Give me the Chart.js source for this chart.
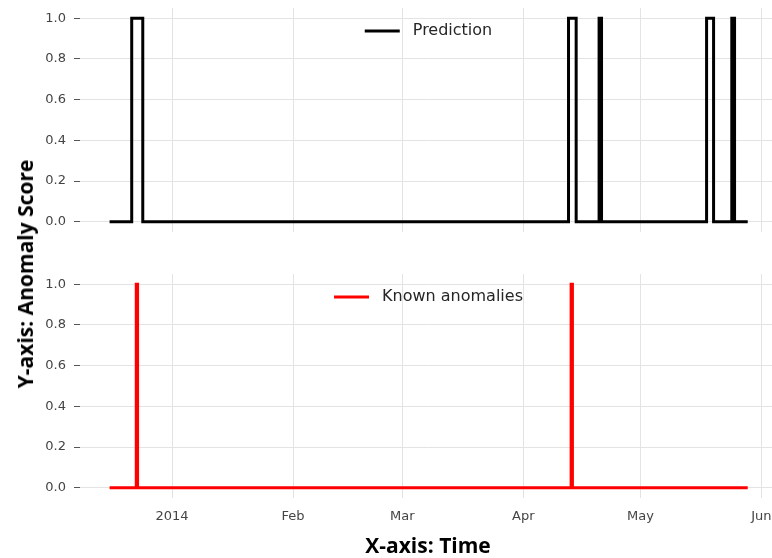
<!DOCTYPE html>
<html>
<head>
<meta charset="utf-8">
<title>Anomaly Score</title>
<script src="https://cdn.jsdelivr.net/npm/chart.js@4.4.1/dist/chart.umd.min.js"></script>
<style>
  body { margin: 0; width: 772px; height: 558px; overflow: hidden; background: #fff; position: relative; }
  canvas { position: absolute; left: 0; }
  #predChart { top: 0; }
  #knownChart { top: 266px; }
  .axis-title { position: absolute; font-family: "Open Sans", sans-serif; font-weight: bold; font-size: 21px; color: #000; white-space: nowrap; transform: translate(-50%, -50%); }
  #yTitle { left: 25px; top: 274px; transform: translate(-50%, -50%) rotate(-90deg); }
  #xTitle { left: 428px; top: 545px; }
</style>
</head>
<body>
<canvas id="predChart" width="777" height="240"></canvas>
<canvas id="knownChart" width="777" height="292"></canvas>
<div class="axis-title" id="yTitle">Y-axis: Anomaly Score</div>
<div class="axis-title" id="xTitle">X-axis: Time</div>
<script>
// model output: value switches at each timestamp and holds until the next one
const predTimes = [
  '2013-12-16T00:00', '2013-12-21T16:00', '2013-12-24T12:00',
  '2014-04-12T14:00', '2014-04-14T13:00',
  '2014-04-20T10:00', '2014-04-21T01:00',
  '2014-05-17T23:00', '2014-05-19T18:00',
  '2014-05-24T10:00', '2014-05-25T03:00',
  '2014-05-28T12:00'
];
const predValues = [0, 1, 0, 1, 0, 1, 0, 1, 0, 1, 0, 0];

// labelled anomalies
const knownTimes = [
  '2013-12-16T00:00', '2013-12-22T20:00', '2013-12-23T04:00',
  '2014-04-13T06:00', '2014-04-13T14:00', '2014-05-28T12:00'
];
const knownValues = [0, 1, 0, 1, 0, 0];

const monthTicks = ['2014-01-01', '2014-02-01', '2014-03-01', '2014-04-01', '2014-05-01', '2014-06-01'];
const monthLabels = ['2014', 'Feb', 'Mar', 'Apr', 'May', 'Jun'];
const scoreTicks = [0, 0.2, 0.4, 0.6, 0.8, 1.0];

const ts = s => Date.parse(s.length === 10 ? s + 'T00:00Z' : s + 'Z');
const toPoints = (times, values) => times.map((s, i) => ({ x: ts(s), y: values[i] }));

const X_MIN = ts('2013-12-08T10:00');
const X_MAX = ts('2014-06-05T00:00');
const GRID = '#e3e3e3';
const TICK_TEXT = '#444444';

// legend drawn inside the plot, upper centre, no frame
const innerLegend = {
  id: 'innerLegend',
  afterDatasetsDraw(chart) {
    const { ctx, chartArea } = chart;
    const ds = chart.data.datasets[0];
    ctx.save();
    ctx.font = '16px "DejaVu Sans"';
    const textW = ctx.measureText(ds.label).width;
    const lineLen = 35, gap = 13;
    const x0 = (chartArea.left + chartArea.right) / 2 - (lineLen + gap + textW) / 2;
    const y = chartArea.top + 23;
    ctx.strokeStyle = ds.borderColor;
    ctx.lineWidth = 3;
    ctx.beginPath();
    ctx.moveTo(x0, y);
    ctx.lineTo(x0 + lineLen, y);
    ctx.stroke();
    ctx.fillStyle = '#262626';
    ctx.textBaseline = 'middle';
    ctx.fillText(ds.label, x0 + lineLen + gap, y);
    ctx.restore();
  }
};

function makeChart(id, label, color, times, values, showDates) {
  return new Chart(document.getElementById(id), {
    type: 'line',
    data: {
      datasets: [{
        label: label,
        data: toPoints(times, values),
        borderColor: color,
        borderWidth: 3,
        stepped: 'before',
        pointRadius: 0,
        borderJoinStyle: 'miter',
        fill: false
      }]
    },
    options: {
      responsive: false,
      animation: false,
      layout: { padding: { top: 8, right: 0, left: 0, bottom: 0 } },
      plugins: { legend: { display: false }, tooltip: { enabled: false } },
      scales: {
        x: {
          type: 'linear',
          min: X_MIN,
          max: X_MAX,
          border: { display: false },
          grid: { color: GRID, lineWidth: 1, drawTicks: false },
          ticks: {
            display: showDates,
            padding: 11,
            color: TICK_TEXT,
            font: { family: 'DejaVu Sans', size: 13 },
            maxRotation: 0,
            callback: v => monthLabels[monthTicks.map(ts).indexOf(v)]
          },
          afterBuildTicks: scale => { scale.ticks = monthTicks.map(s => ({ value: ts(s) })); },
          afterFit: scale => {
            scale.height = showDates ? 60 : 8;
            scale.paddingLeft = 0;
            scale.paddingRight = 0;
          }
        },
        y: {
          min: -0.05,
          max: 1.05,
          border: { display: false },
          grid: { color: GRID, lineWidth: 1, tickColor: '#555', tickLength: 6 },
          ticks: {
            padding: 8,
            color: TICK_TEXT,
            font: { family: 'DejaVu Sans', size: 13 },
            callback: v => v.toFixed(1)
          },
          afterBuildTicks: scale => { scale.ticks = scoreTicks.map(v => ({ value: v })); },
          afterFit: scale => {
            scale.width = 80;
            scale.paddingTop = 0;
            scale.paddingBottom = 0;
          }
        }
      }
    },
    plugins: [innerLegend]
  });
}

makeChart('predChart', 'Prediction', '#000000', predTimes, predValues, false);
makeChart('knownChart', 'Known anomalies', '#ff0000', knownTimes, knownValues, true);
</script>
</body>
</html>
